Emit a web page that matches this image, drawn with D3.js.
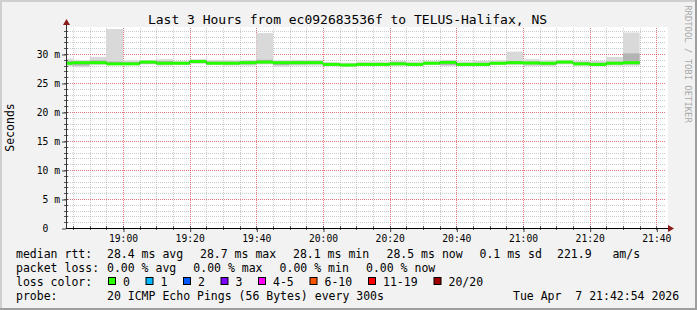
<!DOCTYPE html>
<html><head><meta charset="utf-8">
<script src="https://cdn.jsdelivr.net/npm/d3@7"></script>
<style>
html,body{margin:0;padding:0;background:#f2f2f2;overflow:hidden;}
svg{display:block;}
text{font-family:"DejaVu Sans Mono",monospace;white-space:pre;fill:#000;}
</style></head><body>
<svg id="c" width="697" height="310"></svg>
<script>
// ---- data ----
const binEnds = ["18:45","18:50","18:55","19:00","19:05","19:10","19:15","19:20","19:25","19:30",
  "19:35","19:40","19:45","19:50","19:55","20:00","20:05","20:10","20:15","20:20",
  "20:25","20:30","20:35","20:40","20:45","20:50","20:55","21:00","21:05","21:10",
  "21:15","21:20","21:25","21:30","21:35"];
const medianRtt = [28.4,28.5,28.5,28.3,28.3,28.6,28.4,28.4,28.7,28.4,
  28.4,28.5,28.6,28.5,28.5,28.5,28.2,28.1,28.2,28.2,
  28.3,28.2,28.4,28.55,28.2,28.2,28.4,28.5,28.45,28.4,
  28.6,28.3,28.2,28.4,28.5];
const pingMin = [27.9,27.7,28.1,28.1,28.1,28.2,28.0,28.1,28.3,28.1,
  28.0,28.0,28.2,27.8,28.0,28.0,27.9,27.8,28.0,28.0,
  28.0,27.9,28.1,27.9,27.9,27.9,28.1,28.1,27.9,27.9,
  28.2,28.0,27.9,28.0,28.0];
const pingLow = [28.2,28.0,28.3,28.2,28.2,28.3,28.2,28.2,28.5,28.2,
  28.2,28.2,28.4,28.1,28.2,28.3,28.0,27.9,28.1,28.1,
  28.1,28.0,28.2,28.1,28.0,28.0,28.2,28.3,28.2,28.1,
  28.4,28.1,28.0,28.2,28.2];
const pingHigh = [28.8,28.7,28.9,28.7,28.6,28.8,28.8,28.6,28.9,28.7,
  28.7,28.8,29.0,28.7,28.8,28.8,28.4,28.3,28.4,28.4,
  28.6,28.4,28.6,28.8,28.4,28.5,28.6,28.8,28.7,28.6,
  28.8,28.6,28.5,28.7,30.1];
const pingMax = [29.2,28.9,29.5,34.3,28.9,28.9,29.1,28.8,29.1,28.9,
  28.9,29.0,33.6,28.9,29.0,29.0,28.6,28.5,28.7,28.7,
  28.8,28.7,28.8,29.0,28.7,28.8,28.9,30.4,29.1,28.9,
  29.0,28.8,28.8,29.5,33.7];
const xTickLabels = ["19:00","19:20","19:40","20:00","20:20","20:40","21:00","21:20","21:40"];
const yTickValues = [0,5,10,15,20,25,30];
const yTickLabels = ["0  ","5 m","10 m","15 m","20 m","25 m","30 m"];
const lossLabels = ["0","1","2","3","4-5","6-10","11-19","20/20"];
const lossColors = ["#26ff00","#00b8ff","#0059ff","#7e00ff","#ff00ff","#ff5500","#ff0000","#a10000"];
const statRow1 = ["median rtt:","28.4 ms avg","28.7 ms max","28.1 ms min","28.5 ms now","0.1 ms sd","221.9   am/s"];
const statRow2 = ["packet loss:","0.00 % avg","0.00 % max","0.00 % min","0.00 % now"];
const probeText = ["probe:","20 ICMP Echo Pings (56 Bytes) every 300s","Tue Apr  7 21:42:54 2026"];
const titleText = "Last 3 Hours from ec092683536f to TELUS-Halifax, NS";

// ---- setup ----
const W = 697, H = 310;
const L = 66, R = 666, T = 28, B = 228;
const t = s => { const [h,m] = s.split(":").map(Number); return new Date(2026,3,7,h,m,0); };
const tStart = new Date(2026,3,7,18,42,54), tEnd = new Date(2026,3,7,21,42,54);
const x = d3.scaleTime().domain([tStart,tEnd]).range([L,R]);
const y = d3.scaleLinear().domain([0,34.48]).range([B,T]);
const svg = d3.select("#c");

// background + frame
svg.append("rect").attr("width",W).attr("height",H).attr("fill","#f2f2f2");
svg.append("path").attr("d",`M1,${H} V1 H${W}`).attr("stroke","#cfcfcf").attr("stroke-width",2).attr("fill","none");
svg.append("path").attr("d",`M0,${H-1} H${W-1} V0`).attr("stroke","#9e9e9e").attr("stroke-width",2).attr("fill","none");
svg.append("rect").attr("x",L).attr("y",T-1).attr("width",R-L+2).attr("height",B-T+1).attr("fill","#fff");

const defs = svg.append("defs");
defs.append("clipPath").attr("id","clip").append("rect").attr("x",L).attr("y",T).attr("width",R-L).attr("height",B-T);

// grid
const g = svg.append("g");
const minorT = d3.timeMinute.every(5).range(tStart,tEnd);
const majorT = xTickLabels.map(t);
const hMinor = d3.range(1,35);
const hMajor = yTickValues.filter(v=>v>0);
const px = v => Math.round(v)+0.5;
g.selectAll(".vmin").data(minorT).join("line")
  .attr("x1",d=>px(x(d))).attr("x2",d=>px(x(d))).attr("y1",T).attr("y2",B)
  .attr("stroke","rgba(140,140,140,0.45)").attr("stroke-dasharray","1,1");
g.selectAll(".hmin").data(hMinor).join("line")
  .attr("y1",d=>px(y(d))).attr("y2",d=>px(y(d))).attr("x1",L).attr("x2",R)
  .attr("stroke","rgba(140,140,140,0.45)").attr("stroke-dasharray","1,1");
g.selectAll(".vmaj").data(majorT).join("line")
  .attr("x1",d=>px(x(d))).attr("x2",d=>px(x(d))).attr("y1",T).attr("y2",B)
  .attr("stroke","rgba(255,0,0,0.4)").attr("stroke-dasharray","1,1");
g.selectAll(".hmaj").data(hMajor).join("line")
  .attr("y1",d=>px(y(d))).attr("y2",d=>px(y(d))).attr("x1",L).attr("x2",R)
  .attr("stroke","rgba(255,0,0,0.4)").attr("stroke-dasharray","1,1");

// smoke + median
const bins = binEnds.map((e,i)=>({t1:t(e), t0:new Date(t(e).getTime()-300000),
  med:medianRtt[i], mn:pingMin[i], lo:pingLow[i], hi:pingHigh[i], mx:pingMax[i]}));
const plot = svg.append("g").attr("clip-path","url(#clip)");
plot.selectAll(".s1").data(bins).join("rect")
  .attr("x",d=>x(d.t0)).attr("width",d=>x(d.t1)-x(d.t0))
  .attr("y",d=>y(d.mx)).attr("height",d=>y(d.mn)-y(d.mx)).attr("fill","#d9d9d9");
plot.selectAll(".s2").data(bins).join("rect")
  .attr("x",d=>x(d.t0)).attr("width",d=>x(d.t1)-x(d.t0))
  .attr("y",d=>y(d.hi)).attr("height",d=>y(d.lo)-y(d.hi)).attr("fill","#b3b3b3");
const pts = [];
bins.forEach(d=>{pts.push([x(d.t0),y(d.med)]);pts.push([x(d.t1),y(d.med)]);});
plot.append("path").attr("d",d3.line()(pts)).attr("fill","none").attr("stroke","#202020").attr("stroke-width",1);
plot.selectAll(".med").data(bins).join("rect")
  .attr("x",d=>x(d.t0)).attr("width",d=>x(d.t1)-x(d.t0))
  .attr("y",d=>y(d.med)-1.5).attr("height",3).attr("fill",lossColors[0]);

// axes
const fs = "9.7px";
const ax = svg.append("g").attr("transform",`translate(0,${B})`)
  .call(d3.axisBottom(x).tickValues(majorT).tickFormat(d3.timeFormat("%H:%M")).tickSize(4).tickPadding(3).tickSizeOuter(0));
ax.select(".domain").remove();
ax.selectAll("line").attr("stroke","#444").attr("transform","translate(0.5,0)");
ax.selectAll("text").attr("font-family","DejaVu Sans Mono").attr("font-size",fs).attr("fill","#000");
const ay = svg.append("g").attr("transform",`translate(${L},0)`)
  .call(d3.axisLeft(y).tickValues(yTickValues).tickFormat((d,i)=>yTickLabels[i]).tickSize(4).tickPadding(2).tickSizeOuter(0));
ay.select(".domain").remove();
ay.selectAll("line").attr("stroke","#444").attr("transform","translate(0,0.5)");
ay.selectAll("text").attr("font-family","DejaVu Sans Mono").attr("font-size",fs).attr("fill","#000");
// minor ticks
svg.selectAll(".mtx").data(minorT).join("line")
  .attr("x1",d=>px(x(d))).attr("x2",d=>px(x(d))).attr("y1",B-2).attr("y2",B+2).attr("stroke","#555");
svg.selectAll(".mty").data(hMinor).join("line")
  .attr("y1",d=>px(y(d))).attr("y2",d=>px(y(d))).attr("x1",L-2).attr("x2",L+2).attr("stroke","#555");
// axis lines
svg.append("line").attr("x1",L+0.5).attr("x2",L+0.5).attr("y1",B+0.5).attr("y2",23).attr("stroke","#333");
svg.append("line").attr("x1",L).attr("x2",670).attr("y1",B+0.5).attr("y2",B+0.5).attr("stroke","#000");
svg.append("path").attr("d",`M${L-3},25 L${L+4},25 L${L+0.5},19 Z`).attr("fill","#8b1a1a");
svg.append("path").attr("d",`M668,${B-3} L668,${B+4} L674,${B+0.5} Z`).attr("fill","#8b1a1a");

// title and labels
svg.append("text").attr("x",347.5).attr("y",24).attr("text-anchor","middle").attr("font-size","13px").text(titleText);
svg.append("text").attr("transform","translate(14,127.5) rotate(-90)").attr("text-anchor","middle").attr("font-size","11.5px").text("Seconds");
svg.append("text").attr("transform","translate(685,64) rotate(90)").attr("text-anchor","middle").attr("font-size","8.9px").attr("fill","#a8a8a8").style("fill","#a8a8a8").text("RRDTOOL / TOBI OETIKER");

// legend
const lf = "11.5px";
const row1X = [16,107,200,293,386.5,479.5,557];
statRow1.forEach((s,i)=>svg.append("text").attr("x",row1X[i]).attr("y",258).attr("font-size",lf).text(s));
const row2X = [16,107,193.3,279.6,366];
statRow2.forEach((s,i)=>svg.append("text").attr("x",row2X[i]).attr("y",272).attr("font-size",lf).text(s));
svg.append("text").attr("x",16).attr("y",286).attr("font-size",lf).text("loss color:");
let bx = 108;
lossLabels.forEach((s,i)=>{
  svg.append("rect").attr("x",bx+0.5).attr("y",277.5).attr("width",7).attr("height",7)
    .attr("fill",lossColors[i]).attr("stroke","#000").attr("stroke-width",1);
  svg.append("text").attr("x",bx+15).attr("y",286).attr("font-size",lf).text(s);
  bx += 8+7+7*s.length+15.5;
});
const row4X = [16,107,513];
probeText.forEach((s,i)=>svg.append("text").attr("x",row4X[i]).attr("y",300).attr("font-size",lf).text(s));
</script>
</body></html>
